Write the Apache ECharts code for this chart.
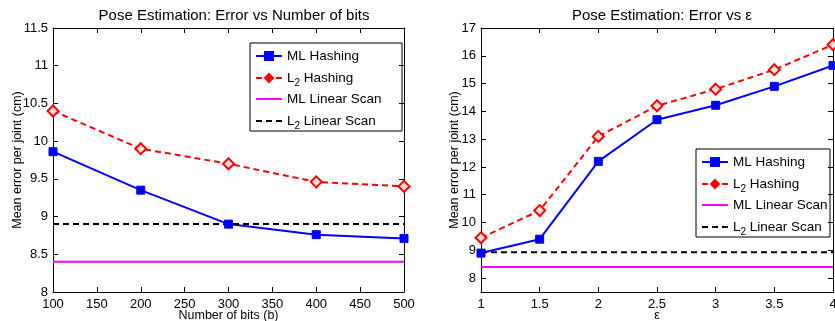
<!DOCTYPE html>
<html><head><meta charset="utf-8">
<script src="https://cdn.jsdelivr.net/npm/echarts@6/dist/echarts.min.js"></script>
<style>html,body{margin:0;padding:0;background:#fff}#c{width:835px;height:321px}</style>
</head><body><div id="c"></div>
<script>
// Left chart data
const bits = [100, 200, 300, 400, 500];
const mlHashBits = [9.86, 9.35, 8.9, 8.76, 8.71];
const l2HashBits = [10.4, 9.9, 9.7, 9.46, 9.4];
const mlLinearBits = 8.4;
const l2LinearBits = 8.9;
// Right chart data
const eps = [1, 1.5, 2, 2.5, 3, 3.5, 4];
const mlHashEps = [8.9, 9.4, 12.2, 13.7, 14.22, 14.9, 15.65];
const l2HashEps = [9.45, 10.43, 13.1, 14.2, 14.8, 15.5, 16.4];
const mlLinearEps = 8.4;
const l2LinearEps = 8.93;
// Tick values
const leftYTicks = [8, 8.5, 9, 9.5, 10, 10.5, 11, 11.5];
const rightYTicks = [8, 9, 10, 11, 12, 13, 14, 15, 16, 17];

const FONT = 'Liberation Sans';
const pair = (xs, ys) => xs.map((x, i) => [x, ys[i]]);
const flat = (xs, v) => [[xs[0], v], [xs[xs.length - 1], v]];

function axesFor(gi, xmin, xmax, xint, ymin, ymax, yTicks, xname, yGap) {
  const common = {
    gridIndex: gi, type: 'value', splitLine: {show: false},
    axisLine: {show: true, lineStyle: {color: '#000', width: 1}},
    axisTick: {show: true, inside: true, length: 5, lineStyle: {color: '#000'}},
    nameMoveOverlap: false
  };
  const xs = [
    Object.assign({}, common, {min: xmin, max: xmax, interval: xint, position: 'bottom',
      name: xname, nameLocation: 'middle', nameGap: 17,
      nameTextStyle: {fontFamily: FONT, fontSize: 12.5, color: '#000'},
      axisLabel: {fontFamily: FONT, fontSize: 13, color: '#000', margin: 6}}),
    Object.assign({}, common, {min: xmin, max: xmax, interval: xint, position: 'top', axisLabel: {show: false}})
  ];
  const ys = [
    Object.assign({}, common, {min: ymin, max: ymax, position: 'left',
      name: 'Mean error per joint (cm)', nameLocation: 'middle', nameGap: yGap, nameRotate: 90,
      nameTextStyle: {fontFamily: FONT, fontSize: 12.5, color: '#000'},
      axisTick: Object.assign({}, common.axisTick, {customValues: yTicks}),
      axisLabel: {fontFamily: FONT, fontSize: 13, color: '#000', margin: 5, customValues: yTicks}}),
    Object.assign({}, common, {min: ymin, max: ymax, position: 'right', axisLabel: {show: false},
      axisTick: Object.assign({}, common.axisTick, {customValues: yTicks})})
  ];
  return {xs, ys};
}

const L = axesFor(0, 100, 500, 50, 8, 11.5, leftYTicks, 'Number of bits (b)', 29);
const R = axesFor(1, 1, 4, 0.5, 7.5, 17, rightYTicks, 'ε', 20);

function seriesFor(gi, xs, ml, l2, mlLin, l2Lin) {
  const ax = {xAxisIndex: gi * 2, yAxisIndex: gi * 2};
  return [
    Object.assign({name: 'ML Hashing', type: 'line', data: pair(xs, ml), symbol: 'rect', symbolSize: 8,
      lineStyle: {color: '#0000ff', width: 2}, itemStyle: {color: '#0000ff', borderColor: '#0000ff', borderWidth: 1}}, ax),
    Object.assign({name: 'L2 Hashing', type: 'line', data: pair(xs, l2), symbol: 'diamond', symbolSize: 11,
      lineStyle: {color: '#ff0000', width: 2, type: [6, 4]}, itemStyle: {color: '#ffdddd', borderColor: '#ff0000', borderWidth: 2}}, ax),
    Object.assign({name: 'ML Linear Scan', type: 'line', data: flat(xs, mlLin), symbol: 'none',
      lineStyle: {color: '#ff00ff', width: 2}, itemStyle: {color: '#ff00ff'}}, ax),
    Object.assign({name: 'L2 Linear Scan', type: 'line', data: flat(xs, l2Lin), symbol: 'none',
      lineStyle: {color: '#000000', width: 2, type: [6, 4]}, itemStyle: {color: '#000'}}, ax),
  ];
}

const rich = {
  n: {fontFamily: FONT, fontSize: 13.5, color: '#000'},
  s: {fontFamily: FONT, fontSize: 10, color: '#000', padding: [10, 0, 0, 0]}
};
const fmt = name => name.startsWith('L2') ? '{n|L}{s|2}{n|' + name.slice(2) + '}' : '{n|' + name + '}';
function legend(left, top, names, noSymbol) {
  return {left, top, orient: 'vertical', itemWidth: 26, itemHeight: 10, itemGap: 8,
    data: names.map(n => noSymbol ? {name: n, itemStyle: {opacity: 0}} : {name: n, itemStyle: n.startsWith('L2') ? {color: '#ff0000'} : undefined}),
    formatter: fmt, textStyle: {rich}, selectedMode: false, padding: 0};
}

const opt = {
  animation: false,
  title: [
    {text: 'Pose Estimation: Error vs Number of bits', left: 229, top: 3, textAlign: 'center',
      textStyle: {fontFamily: FONT, fontSize: 15, fontWeight: 'normal', color: '#000'}},
    {text: 'Pose Estimation: Error vs ε', left: 657, top: 3, textAlign: 'center',
      textStyle: {fontFamily: FONT, fontSize: 15, fontWeight: 'normal', color: '#000'}}
  ],
  grid: [
    {left: 53, right: 431, top: 28, bottom: 29, outerBoundsMode: 'none'},
    {left: 481, right: 2, top: 28, bottom: 29, outerBoundsMode: 'none'}
  ],
  xAxis: [...L.xs, ...R.xs],
  yAxis: [...L.ys, ...R.ys],
  legend: [
    legend(255, 49, ['ML Hashing', 'L2 Hashing']),
    legend(255, 92, ['ML Linear Scan', 'L2 Linear Scan'], true),
    legend(701, 155, ['ML Hashing', 'L2 Hashing']),
    legend(701, 198, ['ML Linear Scan', 'L2 Linear Scan'], true)
  ],
  graphic: [
    {type: 'rect', shape: {x: 250, y: 43, width: 152, height: 88}, style: {fill: 'none', stroke: '#000', lineWidth: 1}, z: 0},
    {type: 'rect', shape: {x: 696, y: 149, width: 134, height: 88}, style: {fill: 'none', stroke: '#000', lineWidth: 1}, z: 0}
  ],
  series: [
    ...seriesFor(0, bits, mlHashBits, l2HashBits, mlLinearBits, l2LinearBits),
    ...seriesFor(1, eps, mlHashEps, l2HashEps, mlLinearEps, l2LinearEps)
  ]
};
echarts.init(document.getElementById('c')).setOption(opt);
</script></body></html>
